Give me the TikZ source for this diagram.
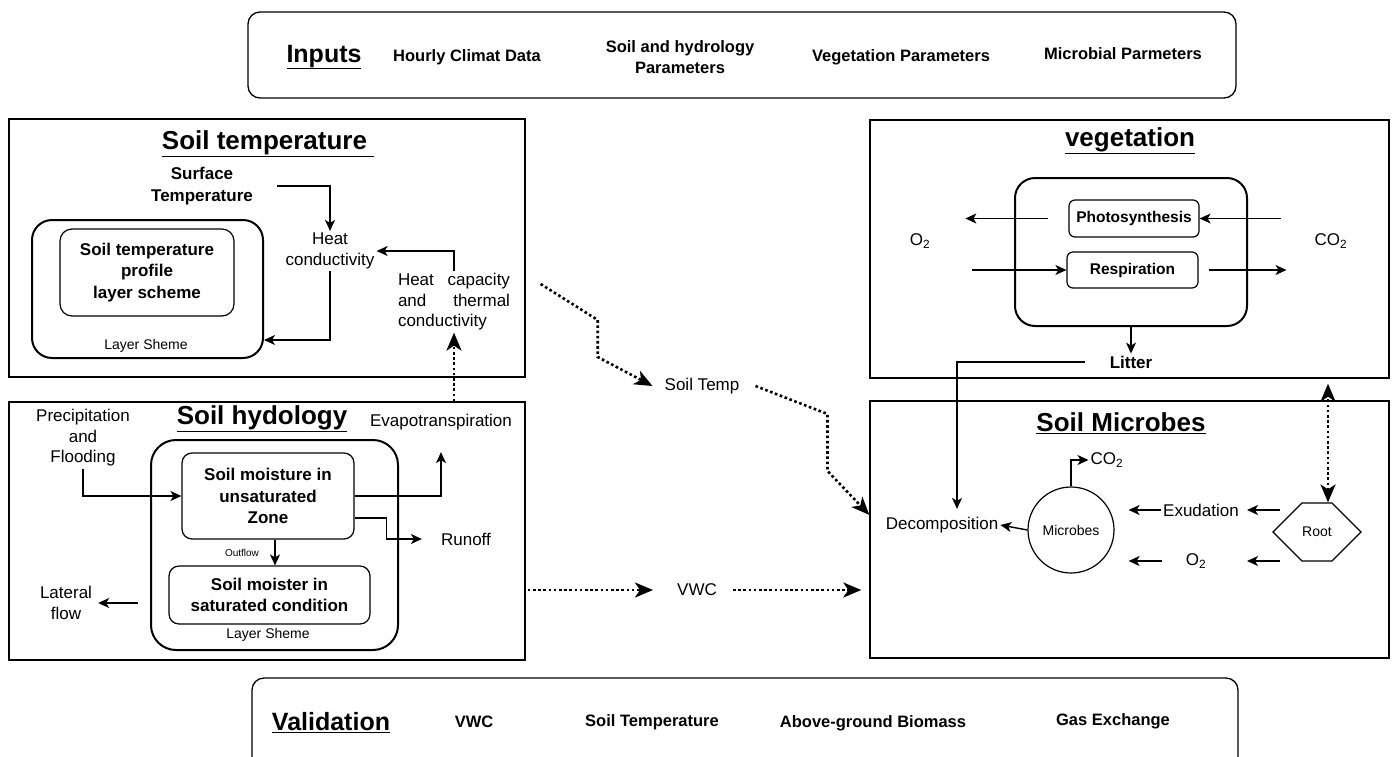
\documentclass[tikz,border=0pt]{standalone}
\usepackage{fontspec}
\setmainfont{Liberation Sans}
\usetikzlibrary{arrows.meta,calc,shapes.symbols}

\tikzset{
  txt/.style={font=\fontsize{17}{20.5}\selectfont, align=center, inner sep=2pt},
  boldtxt/.style={txt, font=\fontsize{17}{21.5}\selectfont\bfseries},
  smalltxt/.style={txt, font=\fontsize{14}{16}\selectfont},
  tinytxt/.style={txt, font=\fontsize{10}{12}\selectfont},
  title/.style={txt, font=\fontsize{26}{31}\selectfont\bfseries},
  bartitle/.style={txt, font=\fontsize{25}{30}\selectfont\bfseries},
  baritem/.style={txt, font=\fontsize{16.5}{20.5}\selectfont\bfseries},
  bar/.style={draw, rounded corners=12pt, line width=1.3pt, inner sep=0pt},
  panel/.style={draw, line width=1.4pt, inner sep=0pt},
  layerbox/.style={draw, line width=2pt, rounded corners=20pt, inner sep=0pt},
  procbox/.style={draw, line width=1.2pt, rounded corners=10pt, align=center,
    inner sep=0pt, font=\fontsize{17}{21.5}\selectfont\bfseries},
  arr/.style={-{Stealth[length=11pt,width=10pt,inset=3pt]}, line width=1.4pt},
  dottip/.tip={Stealth[length=18pt,width=15pt,inset=5pt]},
  dotarr/.style={-dottip, line width=2.6pt, dash pattern=on 2.6pt off 2.6pt},
}

\begin{document}
\begin{tikzpicture}[x=1pt,y=-1pt]
\useasboundingbox (0,0) rectangle (1392,756);
\clip (0,0) rectangle (1392,756);

% inputs bar
\node[bar, minimum width=988pt, minimum height=86pt] (inbar) at (742,55) {};
\node[bartitle] (intitle) at (324,57) {\underline{Inputs}};
\node[baritem] (climat) at (467,57) {Hourly Climat Data};
\node[baritem] (soilpar) at (680,57) {Soil and hydrology\\Parameters};
\node[baritem] (vegpar) at (901,57) {Vegetation Parameters};
\node[baritem] (micpar) at (1123,54) {Microbial Parmeters};

% soil temperature
\node[panel, minimum width=516pt, minimum height=258pt] (tpanel) at (267,248) {};
\node[title] (ttitle) at (268,144) {\underline{Soil temperature\hspace{7pt}}};
\node[boldtxt] (surf) at (202,186) {Surface\\Temperature};
\node[layerbox, minimum width=231pt, minimum height=138pt] (tlayer) at (147.5,289) {};
\node[procbox, rounded corners=12pt, minimum width=174pt, minimum height=87pt] (tprofile) at (147,272.5)
  {Soil temperature\\profile\\layer scheme};
\node[smalltxt] (tsheme) at (146,346) {Layer Sheme};
\node[txt] (hcond) at (330,251) {Heat\\conductivity};
\node[txt, align=left, text width=112pt] (hcap) at (454,302)
  {Heat\hfill capacity\\and\hfill thermal\\conductivity};

\draw[arr] ([xshift=22pt]surf.east) -| (hcond.north);
\draw[arr] (hcond.south) |- ([yshift=19pt]tlayer.south east);
\draw[arr] (hcap.north) |- (hcond.east);

% soil hydrology
\node[panel, minimum width=516pt, minimum height=258pt] (hpanel) at (267,531) {};
\node[title] (htitle) at (262,419) {\underline{Soil hydology}};
\node[txt] (precip) at (83,438) {Precipitation\\and\\Flooding};
\node[layerbox, rounded corners=25pt, minimum width=247pt, minimum height=210pt] (hlayer) at (274.5,545) {};
\node[procbox, minimum width=172pt, minimum height=86pt] (unsat) at (268,496)
  {Soil moisture in\\unsaturated\\Zone};
\node[procbox, minimum width=201pt, minimum height=58pt] (sat) at (269.5,595)
  {Soil moister in\\saturated condition};
\node[smalltxt] (hsheme) at (268,635) {Layer Sheme};
\node[tinytxt] (outflow) at (242,553) {Outflow};
\node[txt] (evap) at (441,422) {Evapotranspiration};
\node[txt] (runoff) at (466,539) {Runoff};
\node[txt] (lateral) at (66,603) {Lateral\\flow};

\draw[arr] (precip.south) |- (unsat.west);
\draw[arr] (unsat.east) -| ([yshift=-20pt]evap.south);
\draw[arr] ([yshift=-22pt]unsat.east) -- ++(32,0) |- ([xshift=-17pt]runoff.west);
\draw[arr] ([xshift=7pt]unsat.south) -- ([xshift=7pt]unsat.south |- sat.north);
\draw[arr] ($(hlayer.west |- lateral.east)+(-12,0)$) -- ([xshift=4pt]lateral.east);
\draw[dotarr] (hpanel.north -| hcap.south) -- (hcap.south);

% exchange between panels
\node[txt] (stemp) at (702,386) {Soil Temp};
\node[txt] (vwc) at (697,590) {VWC};

% vegetation
\node[panel, minimum width=519pt, minimum height=258pt] (vpanel) at (1129.5,249) {};
\node[title] (vtitle) at (1130,141) {\underline{vegetation}};
\node[layerbox, minimum width=232pt, minimum height=148pt] (vbox) at (1131,252) {};
\node[procbox, rounded corners=6pt, minimum width=130pt, minimum height=37pt,
  font=\fontsize{15.5}{19}\selectfont\bfseries] (photo) at (1134,218.5) {Photosynthesis};
\node[procbox, rounded corners=6pt, minimum width=131pt, minimum height=36pt,
  font=\fontsize{15.5}{19}\selectfont\bfseries] (resp) at (1132.5,270) {Respiration};
\node[txt] (o2v) at (920,241) {O\textsubscript{2}};
\node[txt] (co2v) at (1331,241) {CO\textsubscript{2}};
\node[boldtxt] (litter) at (1131,362) {Litter};

\draw[arr] ([xshift=-20pt]photo.west) -- ($(o2v.east |- photo.west)+(33,0)$);
\draw[arr] ($(co2v.west |- photo.east)+(-32,0)$) -- (photo.east);
\draw[arr] ($(o2v.east |- resp.west)+(40,0)$) -- (resp.west);
\draw[arr] ([xshift=10pt]resp.east) -- ($(co2v.west |- resp.east)+(-26,0)$);
\draw[arr] (vbox.south) -- (litter.north);

% soil microbes
\node[panel, minimum width=519pt, minimum height=257pt] (mpanel) at (1129.5,529.5) {};
\node[title] (mtitle) at (1121,423) {\underline{Soil Microbes}};
\node[draw, circle, line width=1.2pt, minimum size=86pt, inner sep=0pt,
  font=\fontsize{14}{16}\selectfont] (microbes) at (1071,530) {Microbes};
\node[txt] (decomp) at (942,525) {Decomposition};
\node[txt] (co2m) at (1107,460) {CO\textsubscript{2}};
\node[txt] (exud) at (1201,510) {Exudation};
\node[txt] (o2m) at (1196,561) {O\textsubscript{2}};
\node[draw, signal, signal to=east and west, signal pointer angle=90, line width=1.2pt,
  minimum width=88pt, minimum height=58pt, inner sep=0pt,
  font=\fontsize{14}{16}\selectfont] (root) at (1317,532) {Root};

\draw[arr] ([xshift=-23pt]litter.west) -| ([xshift=15pt,yshift=6pt]decomp.north);
\draw[arr] (microbes.west) -- (decomp.east);
\draw[arr] (microbes.north) |- (co2m.west);
\draw[arr] (exud.west) -- ($(microbes.east |- exud.west)+(14,0)$);
\draw[arr] ($(root.west |- exud.east)+(8,0)$) -- ([xshift=6pt]exud.east);
\draw[arr] ([xshift=-22pt]o2m.west) -- ($(microbes.east |- o2m.west)+(14,0)$);
\draw[arr] ($(root.west |- o2m.east)+(8,0)$) -- ($(exud.east |- o2m.east)+(6,0)$);
\coordinate (roottop) at ($(root.north)+(11,0)$);
\draw[dotarr, dottip-dottip] (roottop) -- ($(roottop |- vpanel.south)+(0,5)$);

% dotted links
\draw[dotarr] ($(tpanel.east)+(15,36)$) -- ++(57,36) -- ++(0,37) -- ([xshift=-10pt]stemp.west);
\draw[dotarr] ([xshift=14pt]stemp.east) -- ++(72,28) -- ++(0,57) -- (mpanel.west |- decomp.north);
\draw[dotarr] ($(hpanel.east |- vwc.west)+(2,0)$) -- ([xshift=-22pt]vwc.west);
\draw[dotarr] ([xshift=14pt]vwc.east) -- ($(mpanel.west |- vwc.east)+(-8,0)$);

% validation bar
\node[bar, minimum width=986pt, minimum height=122pt] (valbar) at (745,739) {};
\node[bartitle] (valtitle) at (331,723) {\underline{Validation}};
\node[baritem] (valvwc) at (474,722) {VWC};
\node[baritem] (valtemp) at (652,722) {Soil Temperature};
\node[baritem] (valbio) at (873,723) {Above-ground Biomass};
\node[baritem] (valgas) at (1113,721) {Gas Exchange};

\end{tikzpicture}
\end{document}
